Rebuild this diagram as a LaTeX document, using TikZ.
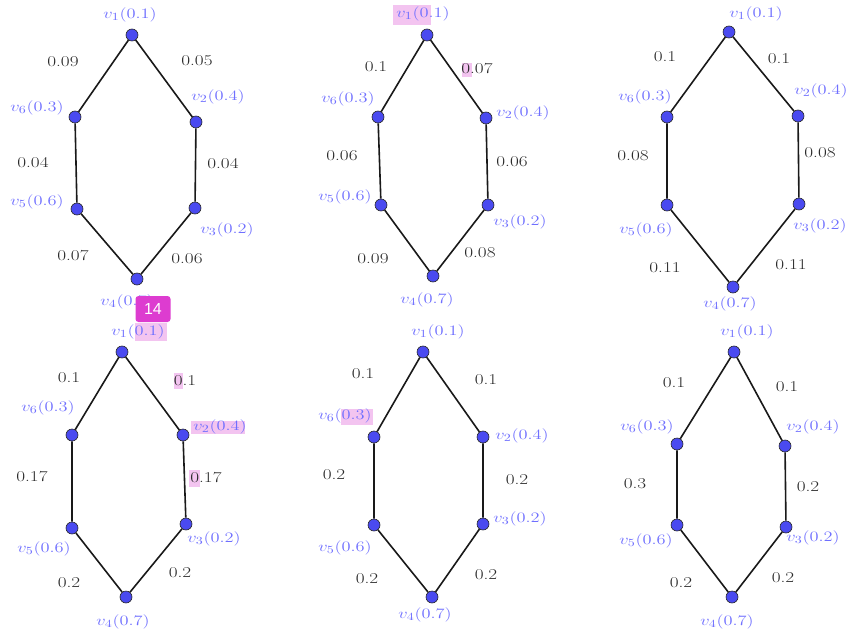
\documentclass[tikz,border=0pt]{standalone}
\usepackage{graphicx}
\usepackage{fontspec}
\newfontfamily\badgefont{Liberation Sans}
\definecolor{nodeblue}{HTML}{4A4AF0}
\definecolor{labblue}{HTML}{6F6FFF}
\definecolor{wtgray}{HTML}{2A2A2A}
\definecolor{hlpink}{HTML}{F3C4F0}
\definecolor{badgemag}{HTML}{DD3CD0}
\newcommand{\wide}[1]{\scalebox{1.28}[1]{#1}}
\newcommand{\vl}[2]{\wide{$v_{#1}(#2)$}}
\tikzset{
  vert/.style={circle, fill=nodeblue, draw=black!85, line width=0.6pt, inner sep=0pt, minimum size=12pt},
  edge/.style={draw=black!90, line width=1.6pt},
  lab/.style={text=labblue, inner sep=0pt, font=\fontsize{15.5}{17}\selectfont},
  wt/.style={text=wtgray, inner sep=0pt, font=\fontsize{15}{17}\selectfont},
  hl/.style={fill=hlpink, draw=none},
  badge/.style={fill=badgemag, draw=none, rounded corners=3pt, minimum width=35pt, minimum height=26pt, text=white, font=\badgefont\fontsize{16}{18}\selectfont, inner sep=0pt}
}
\begin{document}
\begin{tikzpicture}[x=1pt, y=-1pt]
\useasboundingbox (0,0) rectangle (862,634);
% ---------- highlights ----------
\fill[hl] (393,5) rectangle (431,25);
\fill[hl] (462,63) rectangle (472,77);
\fill[hl] (135,323) rectangle (167,341);
\fill[hl] (174,373) rectangle (183,389);
\fill[hl] (191,421) rectangle (245,434);
\fill[hl] (189,470) rectangle (200,487);
\fill[hl] (341,409) rectangle (373,425);
% ---------- graph 1 ----------
\node[vert] (a1) at (132,35) {};
\node[vert] (a2) at (196,122) {};
\node[vert] (a3) at (195,208) {};
\node[vert] (a4) at (137,279) {};
\node[vert] (a5) at (77,209) {};
\node[vert] (a6) at (75,117) {};
\draw[edge] (a1) -- (a2) -- (a3) -- (a4) -- (a5) -- (a6) -- (a1);
\node[lab] (la1) at (130,15) {\vl{1}{0.1}};
\node[lab] (la2) at (218,97) {\vl{2}{0.4}};
\node[lab] (la3) at (227,230) {\vl{3}{0.2}};
\node[lab] (la4) at (127,302) {\vl{4}{0.7}};
\node[lab] (la5) at (37,202) {\vl{5}{0.6}};
\node[lab] (la6) at (37,108) {\vl{6}{0.3}};
\node[wt] (wa12) at (197,61) {\wide{0.05}};
\node[wt] (wa23) at (223,164) {\wide{0.04}};
\node[wt] (wa34) at (187,259) {\wide{0.06}};
\node[wt] (wa45) at (73,256) {\wide{0.07}};
\node[wt] (wa56) at (33,163) {\wide{0.04}};
\node[wt] (wa61) at (63,62) {\wide{0.09}};
% ---------- graph 2 ----------
\node[vert] (b1) at (427,35) {};
\node[vert] (b2) at (486,118) {};
\node[vert] (b3) at (488,205) {};
\node[vert] (b4) at (433,276) {};
\node[vert] (b5) at (381,205) {};
\node[vert] (b6) at (378,117) {};
\draw[edge] (b1) -- (b2) -- (b3) -- (b4) -- (b5) -- (b6) -- (b1);
\node[lab] (lb1) at (423,14) {\vl{1}{0.1}};
\node[lab] (lb2) at (523,113) {\vl{2}{0.4}};
\node[lab] (lb3) at (520,222) {\vl{3}{0.2}};
\node[lab] (lb4) at (427,300) {\vl{4}{0.7}};
\node[lab] (lb5) at (345,197) {\vl{5}{0.6}};
\node[lab] (lb6) at (348,99) {\vl{6}{0.3}};
\node[wt] (wb12) at (477,69) {\wide{0.07}};
\node[wt] (wb23) at (512,162) {\wide{0.06}};
\node[wt] (wb34) at (480,253) {\wide{0.08}};
\node[wt] (wb45) at (373,259) {\wide{0.09}};
\node[wt] (wb56) at (342,156) {\wide{0.06}};
\node[wt] (wb61) at (376,67) {\wide{0.1}};
% ---------- graph 3 ----------
\node[vert] (c1) at (729,32) {};
\node[vert] (c2) at (798,116) {};
\node[vert] (c3) at (799,204) {};
\node[vert] (c4) at (733,287) {};
\node[vert] (c5) at (667,205) {};
\node[vert] (c6) at (667,117) {};
\draw[edge] (c1) -- (c2) -- (c3) -- (c4) -- (c5) -- (c6) -- (c1);
\node[lab] (lc1) at (756,14) {\vl{1}{0.1}};
\node[lab] (lc2) at (821,91) {\vl{2}{0.4}};
\node[lab] (lc3) at (820,226) {\vl{3}{0.2}};
\node[lab] (lc4) at (730,304) {\vl{4}{0.7}};
\node[lab] (lc5) at (646,230) {\vl{5}{0.6}};
\node[lab] (lc6) at (645,97) {\vl{6}{0.3}};
\node[wt] (wc12) at (779,59) {\wide{0.1}};
\node[wt] (wc23) at (820,153) {\wide{0.08}};
\node[wt] (wc34) at (791,265) {\wide{0.11}};
\node[wt] (wc45) at (665,268) {\wide{0.11}};
\node[wt] (wc56) at (633,156) {\wide{0.08}};
\node[wt] (wc61) at (665,57) {\wide{0.1}};
% ---------- graph 4 ----------
\node[vert] (d1) at (122,352) {};
\node[vert] (d2) at (183,435) {};
\node[vert] (d3) at (186,524) {};
\node[vert] (d4) at (126,597) {};
\node[vert] (d5) at (72,528) {};
\node[vert] (d6) at (72,435) {};
\draw[edge] (d1) -- (d2) -- (d3) -- (d4) -- (d5) -- (d6) -- (d1);
\node[lab] (ld1) at (138,332) {\vl{1}{0.1}};
\node[lab] (ld2) at (220,427) {\vl{2}{0.4}};
\node[lab] (ld3) at (214,539) {\vl{3}{0.2}};
\node[lab] (ld4) at (123,622) {\vl{4}{0.7}};
\node[lab] (ld5) at (44,549) {\vl{5}{0.6}};
\node[lab] (ld6) at (48,408) {\vl{6}{0.3}};
\node[wt] (wd12) at (185,381) {\wide{0.1}};
\node[wt] (wd23) at (206,478) {\wide{0.17}};
\node[wt] (wd34) at (180,573) {\wide{0.2}};
\node[wt] (wd45) at (69,583) {\wide{0.2}};
\node[wt] (wd56) at (32,477) {\wide{0.17}};
\node[wt] (wd61) at (69,378) {\wide{0.1}};
% ---------- graph 5 ----------
\node[vert] (e1) at (423,352) {};
\node[vert] (e2) at (483,437) {};
\node[vert] (e3) at (483,524) {};
\node[vert] (e4) at (432,597) {};
\node[vert] (e5) at (374,525) {};
\node[vert] (e6) at (374,437) {};
\draw[edge] (e1) -- (e2) -- (e3) -- (e4) -- (e5) -- (e6) -- (e1);
\node[lab] (le1) at (438,332) {\vl{1}{0.1}};
\node[lab] (le2) at (522,436) {\vl{2}{0.4}};
\node[lab] (le3) at (520,519) {\vl{3}{0.2}};
\node[lab] (le4) at (425,615) {\vl{4}{0.7}};
\node[lab] (le5) at (345,548) {\vl{5}{0.6}};
\node[lab] (le6) at (345,416) {\vl{6}{0.3}};
\node[wt] (we12) at (486,380) {\wide{0.1}};
\node[wt] (we23) at (517,480) {\wide{0.2}};
\node[wt] (we34) at (486,575) {\wide{0.2}};
\node[wt] (we45) at (367,579) {\wide{0.2}};
\node[wt] (we56) at (334,475) {\wide{0.2}};
\node[wt] (we61) at (363,374) {\wide{0.1}};
% ---------- graph 6 ----------
\node[vert] (f1) at (734,352) {};
\node[vert] (f2) at (785,446) {};
\node[vert] (f3) at (786,527) {};
\node[vert] (f4) at (732,597) {};
\node[vert] (f5) at (677,525) {};
\node[vert] (f6) at (677,444) {};
\draw[edge] (f1) -- (f2) -- (f3) -- (f4) -- (f5) -- (f6) -- (f1);
\node[lab] (lf1) at (747,332) {\vl{1}{0.1}};
\node[lab] (lf2) at (813,427) {\vl{2}{0.4}};
\node[lab] (lf3) at (813,538) {\vl{3}{0.2}};
\node[lab] (lf4) at (727,622) {\vl{4}{0.7}};
\node[lab] (lf5) at (646,541) {\vl{5}{0.6}};
\node[lab] (lf6) at (647,427) {\vl{6}{0.3}};
\node[wt] (wf12) at (787,387) {\wide{0.1}};
\node[wt] (wf23) at (808,487) {\wide{0.2}};
\node[wt] (wf34) at (783,578) {\wide{0.2}};
\node[wt] (wf45) at (681,583) {\wide{0.2}};
\node[wt] (wf56) at (635,484) {\wide{0.3}};
\node[wt] (wf61) at (674,383) {\wide{0.1}};
% ---------- badge ----------
\node[badge] (badge) at (153,309) {14};
\end{tikzpicture}
\end{document}
